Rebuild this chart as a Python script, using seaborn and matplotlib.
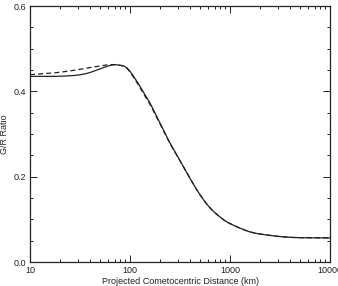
import numpy as np
import pandas as pd
import seaborn as sns
import matplotlib.pyplot as plt
from matplotlib.ticker import MultipleLocator, LogLocator, FixedLocator

# values
dist_solid = [10, 17, 27, 37, 50, 63, 74, 93, 117, 140, 158, 200, 251, 316, 398,
              500, 630, 800, 1000, 1585, 2415, 3400, 5000, 10000]
ratio_solid = [0.435, 0.435, 0.437, 0.442, 0.4525, 0.4605, 0.462, 0.455, 0.4235, 0.393,
               0.373, 0.325, 0.279, 0.238, 0.196, 0.158, 0.127, 0.105, 0.090, 0.0706,
               0.0628, 0.059, 0.057, 0.0565]
dist_dash = [10, 17, 27, 43, 63, 79, 93, 117, 140, 158, 200, 251, 316, 398,
             500, 630, 800, 1000, 1585, 2415, 3400, 5000, 10000]
ratio_dash = [0.439, 0.443, 0.449, 0.457, 0.4625, 0.461, 0.454, 0.421, 0.39,
              0.370, 0.323, 0.278, 0.237, 0.196, 0.158, 0.127, 0.105, 0.090, 0.0706,
              0.0628, 0.059, 0.057, 0.0565]

x_ticks = [10, 100, 1000, 10000]
x_labels = ["10", "100", "1000", "10000"]
y_ticks = [0.0, 0.2, 0.4, 0.6]


def smooth(x, y, per=20):
    # catmull-rom through the read points, in log x
    lx = np.log10(np.asarray(x, float))
    y = np.asarray(y, float)
    px = np.concatenate([[2 * lx[0] - lx[1]], lx, [2 * lx[-1] - lx[-2]]])
    py = np.concatenate([[2 * y[0] - y[1]], y, [2 * y[-1] - y[-2]]])
    ox, oy = [], []
    t = np.linspace(0, 1, per, endpoint=False)
    for i in range(1, len(px) - 2):
        for p, o in ((px, ox), (py, oy)):
            p0, p1, p2, p3 = p[i - 1], p[i], p[i + 1], p[i + 2]
            o.extend(0.5 * (2 * p1 + (-p0 + p2) * t + (2 * p0 - 5 * p1 + 4 * p2 - p3) * t ** 2
                            + (-p0 + 3 * p1 - 3 * p2 + p3) * t ** 3))
    ox.append(lx[-1])
    oy.append(y[-1])
    return 10 ** np.array(ox), np.array(oy)


sns.set_theme(style="ticks")
plt.rcParams["font.family"] = ["Liberation Sans", "DejaVu Sans"]

fig = plt.figure(figsize=(3.38, 2.86), dpi=100)
ax = fig.add_axes([30 / 338, 24 / 286, 300 / 338, 256 / 286])

xs, ys = smooth(dist_solid, ratio_solid)
xd, yd = smooth(dist_dash, ratio_dash)
df_s = pd.DataFrame({"d": xs, "r": ys})
df_d = pd.DataFrame({"d": xd, "r": yd})
sns.lineplot(data=df_s, x="d", y="r", ax=ax, color="#222222", lw=0.9, sort=False)
sns.lineplot(data=df_d, x="d", y="r", ax=ax, color="#222222", lw=0.9,
             linestyle=(0, (4, 2.5)), sort=False)

ax.set_xscale("log")
ax.set_xlim(10, 10000)
ax.set_ylim(0, 0.6)
ax.xaxis.set_major_locator(FixedLocator(x_ticks))
ax.set_xticklabels(x_labels)
ax.xaxis.set_minor_locator(LogLocator(base=10, subs=np.arange(2, 10)))
ax.yaxis.set_major_locator(FixedLocator(y_ticks))
ax.set_yticklabels(["%.1f" % v for v in y_ticks])
ax.yaxis.set_minor_locator(MultipleLocator(0.05))
ax.tick_params(which="both", direction="in", top=True, right=True, labelsize=6.5,
               colors="#222222", width=0.7, pad=3)
ax.tick_params(which="major", length=5)
ax.tick_params(which="minor", length=2.5)
for s in ax.spines.values():
    s.set_linewidth(0.9)
    s.set_color("#222222")
ax.set_xlabel("Projected Cometocentric Distance (km)", fontsize=6.5, labelpad=1, color="#222222")
ax.set_ylabel("G/R Ratio", fontsize=6.5, labelpad=3, color="#222222")

fig.savefig("out.png", dpi=100)
